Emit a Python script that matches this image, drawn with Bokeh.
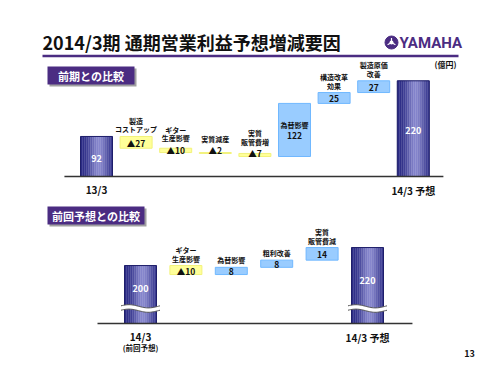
import numpy as np
from bokeh.plotting import figure
from bokeh.models import Range1d, ColumnDataSource
from bokeh.core.properties import value
from bokeh.embed import file_html
from bokeh.resources import INLINE

FONT = "Noto Sans CJK JP"

# ---------------- data ----------------
title_text = "2014/3期 通期営業利益予想増減要因"
unit_text = "(億円)"
section1 = "前期との比較"
section2 = "前回予想との比較"
page_no = "13"

top_start_label = "13/3"
top_start_value = 92
top_end_label = "14/3 予想"
top_end_value = 220
top_items = ["製造\nコストアップ", "ギター\n生産影響", "実質減産", "実質\n販管費増",
             "為替影響", "構造改革\n効果", "製造原価\n改善"]
top_deltas = [-27, -10, -2, -7, 122, 25, 27]

bot_start_label = "14/3"
bot_start_sub = "(前回予想)"
bot_start_value = 200
bot_end_label = "14/3 予想"
bot_end_value = 220
bot_items = ["ギター\n生産影響", "為替影響", "粗利改善", "実質\n販管費減"]
bot_deltas = [-10, 8, 8, 14]

# ---------------- layout constants ----------------
W, H = 500, 375
TOP_K, TOP_BASE_PX, TOP_X0, TOP_DX = 0.435, 176.0, 96.0, 39.6
BOT_K, BOT_BASE_PX, BOT_X0, BOT_DX = 0.9, 323.0, 140.0, 45.4
BOT_BASE = 135.6  # visible floor of the broken axis
BAR_PX = 32.0

PURPLE = "#4B2C82"
NEG_FILL = "#FFFF99"
POS_FILL = "#99CCFF"
POS_LINE = "#70B8FF"

p = figure(width=W, height=H, x_range=Range1d(0, W), y_range=Range1d(H, 0),
           output_backend="svg", toolbar_location=None,
           x_axis_location=None, y_axis_location=None, min_border=0)
p.outline_line_color = None
p.background_fill_color = "white"
p.border_fill_color = "white"
p.xgrid.visible = False
p.ygrid.visible = False
p.grid.grid_line_color = None

p.extra_x_ranges = {
    "tx": Range1d(-TOP_X0 / TOP_DX, (W - TOP_X0) / TOP_DX),
    "bx": Range1d(-BOT_X0 / BOT_DX, (W - BOT_X0) / BOT_DX),
}
p.extra_y_ranges = {
    "ty": Range1d(-(H - TOP_BASE_PX) / TOP_K, TOP_BASE_PX / TOP_K),
    "by": Range1d(BOT_BASE - (H - BOT_BASE_PX) / BOT_K, BOT_BASE + BOT_BASE_PX / BOT_K),
}

# ---------------- header ----------------
p.text(x=[42], y=[41], text=[title_text], text_font=value(FONT), text_font_size="18px",
       text_font_style="bold", text_baseline="middle", text_color="#111111")
p.line(x=[42, 458], y=[55.5, 55.5], line_color=PURPLE, line_width=2.5)
# yamaha logo
p.scatter(x=[391], y=[42], size=13, marker="circle", fill_color=PURPLE, line_color=PURPLE)
ang = np.deg2rad([90, 210, 330])
p.segment(x0=[391] * 3, y0=[42] * 3, x1=list(391 + 4.5 * np.cos(ang)),
          y1=list(42 - 4.5 * np.sin(ang)), line_color="white", line_width=1.2)
p.scatter(x=[391], y=[42], size=4, marker="circle", fill_color="white", line_color=None)
p.text(x=[399], y=[42], text=["YAMAHA"], text_font=value("Roboto"), text_font_size="15px",
       text_font_style="bold", text_baseline="middle", text_color=PURPLE)
p.text(x=[445], y=[64], text=[unit_text], text_font=value(FONT), text_font_size="8px",
       text_font_style="bold", text_align="center", text_baseline="middle", text_color="#111111")

# section tags
for (x0, x1, y0, y1, t) in [(47, 134, 66, 84, section1), (47, 144, 206, 224, section2)]:
    p.quad(left=[x0 + 2], right=[x1 + 2], top=[y0 + 2], bottom=[y1 + 2],
           fill_color="#A0A0A0", line_color=None)
    p.quad(left=[x0], right=[x1], top=[y0], bottom=[y1], fill_color=PURPLE, line_color=None)
    p.text(x=[(x0 + x1) / 2], y=[(y0 + y1) / 2 + 0.5], text=[t], text_font=value(FONT),
           text_font_size="11px", text_font_style="bold", text_align="center",
           text_baseline="middle", text_color="white")

p.text(x=[469], y=[353], text=[page_no], text_font=value(FONT), text_font_size="9px",
       text_font_style="bold", text_align="center", text_baseline="middle", text_color="#111111")


def grad_colors(n):
    dark = np.array([0x28, 0x28, 0x82])
    light = np.array([0x86, 0x86, 0xCC])
    out = []
    for t in np.linspace(0, 1, n):
        f = np.exp(-((t - 0.58) / 0.33) ** 2)
        c = dark + (light - dark) * f
        out.append("#%02x%02x%02x" % tuple(int(round(v)) for v in c))
    return out


def total_bar(xi, bottom, top, bw, xr, yr):
    n = 16
    cols = grad_colors(n)
    edges = np.linspace(xi - bw / 2, xi + bw / 2, n + 1)
    p.quad(left=list(edges[:-1]), right=list(edges[1:]), bottom=[bottom] * n, top=[top] * n,
           fill_color=cols, line_color=cols, line_width=0.3, x_range_name=xr, y_range_name=yr)
    p.quad(left=[xi - bw / 2], right=[xi + bw / 2], bottom=[bottom], top=[top],
           fill_color=None, line_color="#1E1E6A", line_width=1, x_range_name=xr, y_range_name=yr)


def chart(xr, yr, k, dx, base, start_v, deltas, items, end_v, broken, ext_l, ext_r):
    bw = BAR_PX / dx
    n = len(deltas)
    total_bar(0, base, start_v, bw, xr, yr)
    total_bar(n + 1, base, end_v, bw, xr, yr)

    cur = start_v
    box = dict(l=[], r=[], b=[], t=[], f=[], lc=[])
    txt = dict(x=[], y=[], off=[], s=[], size=[])
    for i, d in enumerate(deltas):
        xi = i + 1
        lo, hi = min(cur, cur + d), max(cur, cur + d)
        cur += d
        box["l"].append(xi - bw / 2); box["r"].append(xi + bw / 2)
        box["b"].append(lo); box["t"].append(hi)
        box["f"].append(NEG_FILL if d < 0 else POS_FILL)
        box["lc"].append("#F2F27A" if d < 0 else POS_LINE)
        num = ("▲%d" % -d) if d < 0 else str(d)
        lines = items[i].split("\n")
        hpx = (hi - lo) * k
        if hpx > 30:
            mid = (lo + hi) / 2
            for j, ln in enumerate(lines):
                txt["x"].append(xi); txt["y"].append(mid)
                txt["off"].append(-5 - 8.5 * (len(lines) - 1 - j)); txt["s"].append(ln)
                txt["size"].append("7px")
            txt["x"].append(xi); txt["y"].append(mid); txt["off"].append(5.5)
            txt["s"].append(num); txt["size"].append("8.5px")
        else:
            noff = min(hpx / 2, hpx - 3.5)
            txt["x"].append(xi); txt["y"].append(hi); txt["off"].append(noff + 0.5)
            txt["s"].append(num); txt["size"].append("8.5px")
            loff = min(-7, noff - 11)
            for j, ln in enumerate(reversed(lines)):
                txt["x"].append(xi); txt["y"].append(hi); txt["off"].append(loff - 8.5 * j)
                txt["s"].append(ln); txt["size"].append("7px")

    p.quad(left=box["l"], right=box["r"], bottom=box["b"], top=box["t"],
           fill_color=box["f"], line_color=box["lc"], line_width=1,
           x_range_name=xr, y_range_name=yr)

    # baseline
    p.line(x=[-ext_l, (n + 1) + ext_r], y=[base, base], line_color="#333333", line_width=1.5,
           x_range_name=xr, y_range_name=yr)

    # axis breaks
    brk = base + 15 / k
    if broken:
        for xi in (0, n + 1):
            t = np.linspace(0, 1, 30)
            xs = xi + (t - 0.5) * (39.0 / dx)
            wave = 1.6 / k * np.sin(2 * np.pi * t + 0.3)
            top_e = brk + 2.2 / k + wave
            bot_e = brk - 2.2 / k + wave
            p.patch(x=list(xs) + list(xs[::-1]), y=list(top_e) + list(bot_e[::-1]),
                    fill_color="white", line_color=None, x_range_name=xr, y_range_name=yr)
            p.multi_line(xs=[list(xs), list(xs)], ys=[list(top_e), list(bot_e)],
                         line_color="#555555", line_width=1, x_range_name=xr, y_range_name=yr)

    src = ColumnDataSource(txt)
    p.text(x="x", y="y", text="s", y_offset="off", text_font_size="size", source=src,
           text_font=value(FONT), text_font_style="bold", text_align="center",
           text_baseline="middle", text_color="#111111", x_range_name=xr, y_range_name=yr)

    # total labels
    if broken:
        ty = [(brk + 2.2 / k + start_v) / 2, (brk + 2.2 / k + end_v) / 2]
        toff = [3, 4]
    else:
        ty = [(base + start_v) / 2, (base + end_v) / 2]
        toff = [2, 2]
    p.text(x=[0, n + 1], y=ty, y_offset=toff, text=[str(start_v), str(end_v)],
           text_font=value(FONT), text_font_size="9px", text_font_style="bold",
           text_align="center", text_baseline="middle", text_color="white",
           x_range_name=xr, y_range_name=yr)


chart("tx", "ty", TOP_K, TOP_DX, 0, top_start_value, top_deltas, top_items, top_end_value,
      False, 0.81, 0.76)
chart("bx", "by", BOT_K, BOT_DX, BOT_BASE, bot_start_value, bot_deltas, bot_items, bot_end_value,
      True, 0.947, 0.99)

# category labels
nt = len(top_deltas) + 1
p.text(x=[0, nt], y=[0, 0], y_offset=[13, 14], text=[top_start_label, top_end_label],
       text_font=value(FONT), text_font_size="10px", text_font_style="bold",
       text_align="center", text_baseline="middle", text_color="#111111",
       x_range_name="tx", y_range_name="ty")
nb = len(bot_deltas) + 1
p.text(x=[0, nb], y=[BOT_BASE, BOT_BASE], y_offset=[13, 14], text=[bot_start_label, bot_end_label],
       text_font=value(FONT), text_font_size="10px", text_font_style="bold",
       text_align="center", text_baseline="middle", text_color="#111111",
       x_range_name="bx", y_range_name="by")
p.text(x=[0], y=[BOT_BASE], y_offset=[23.5], text=[bot_start_sub],
       text_font=value(FONT), text_font_size="7.5px", text_font_style="bold",
       text_align="center", text_baseline="middle", text_color="#111111",
       x_range_name="bx", y_range_name="by")

open("out.html", "w").write(file_html(p, INLINE))
